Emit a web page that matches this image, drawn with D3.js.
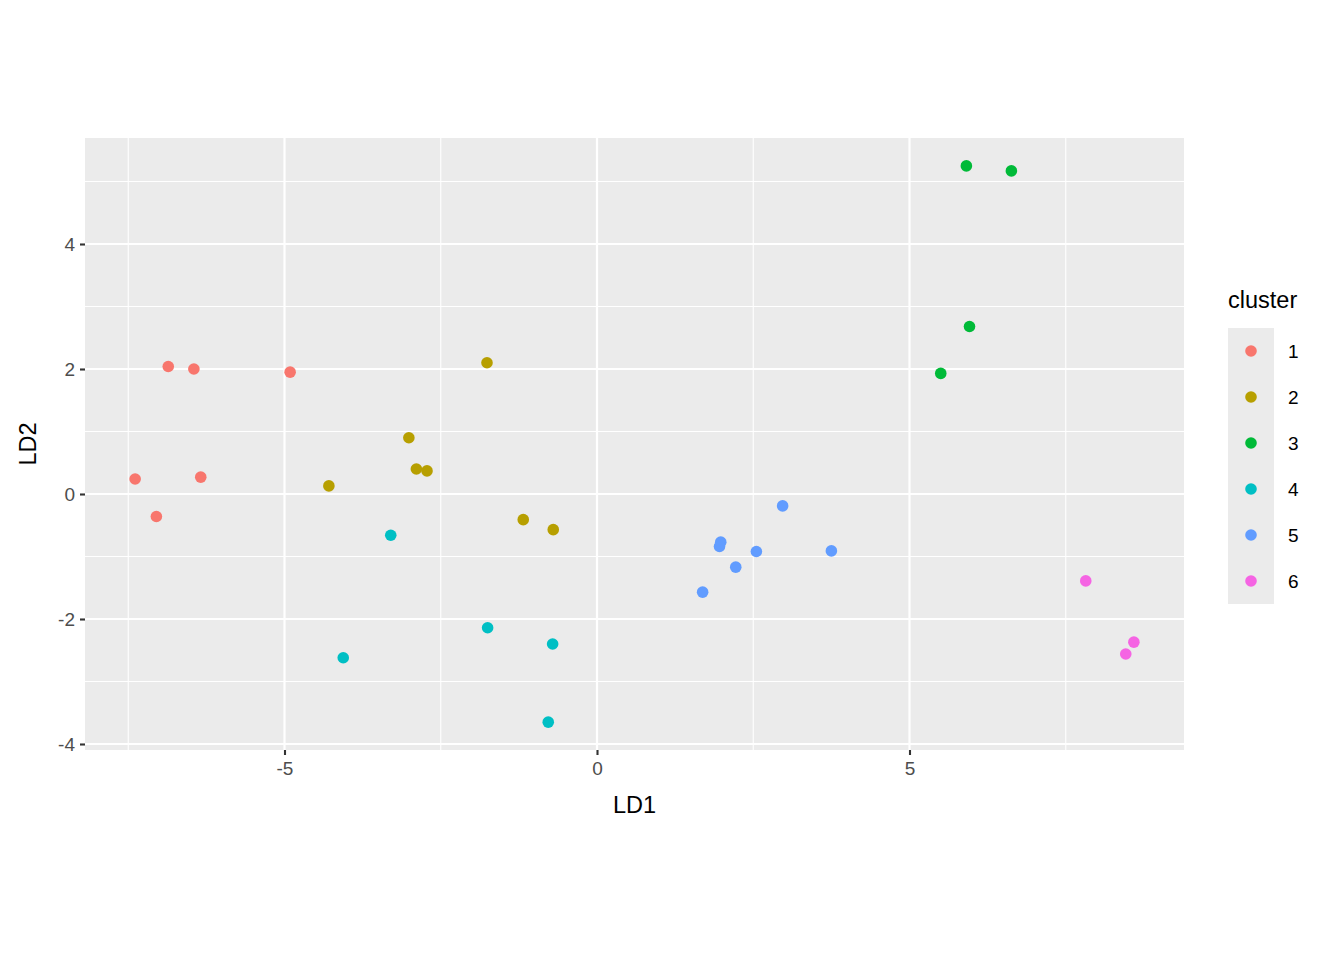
<!DOCTYPE html>
<html>
<head>
<meta charset="utf-8">
<script src="https://cdn.jsdelivr.net/npm/d3@7"></script>
<style>
  body { margin: 0; background: #fff; }
  svg { font-family: "Liberation Sans", Arial, sans-serif; }
</style>
</head>
<body>
<svg id="chart" width="1344" height="960"></svg>
<script>
// data
const clusters = ["1", "2", "3", "4", "5", "6"];
const colors = ["#F8766D", "#B79F00", "#00BA38", "#00BFC4", "#619CFF", "#F564E3"];
const ld1 = [
  -6.86, -6.45, -4.91, -7.39, -6.34, -7.05,
  -1.76, -3.01, -2.89, -2.72, -4.29, -1.18, -0.70,
  5.91, 6.63, 5.96, 5.50,
  -3.30, -4.06, -1.75, -0.71, -0.78,
  2.97, 1.98, 1.96, 2.55, 3.75, 2.22, 1.69,
  7.82, 8.59, 8.46
];
const ld2 = [
  2.04, 2.00, 1.95, 0.24, 0.27, -0.36,
  2.10, 0.90, 0.40, 0.37, 0.13, -0.41, -0.57,
  5.25, 5.17, 2.68, 1.93,
  -0.66, -2.62, -2.14, -2.40, -3.65,
  -0.19, -0.77, -0.84, -0.92, -0.91, -1.17, -1.57,
  -1.39, -2.37, -2.56
];
const group = [
  "1", "1", "1", "1", "1", "1",
  "2", "2", "2", "2", "2", "2", "2",
  "3", "3", "3", "3",
  "4", "4", "4", "4", "4",
  "5", "5", "5", "5", "5", "5", "5",
  "6", "6", "6"
];
const xTicks = [-5, 0, 5];
const yTicks = [-4, -2, 0, 2, 4];
const xMinor = [-7.5, -2.5, 2.5, 7.5];
const yMinor = [-3, -1, 1, 3, 5];

const points = ld1.map((d, i) => ({ x: d, y: ld2[i], c: group[i] }));

const svg = d3.select("#chart");
const panel = { left: 85, right: 1184, top: 138, bottom: 750 };

const x = d3.scaleLinear().domain([-8.192, 9.392]).range([panel.left, panel.right]);
const y = d3.scaleLinear().domain([-4.096, 5.696]).range([panel.bottom, panel.top]);
const color = d3.scaleOrdinal().domain(clusters).range(colors);

// panel background
svg.append("rect")
  .attr("x", panel.left).attr("y", panel.top)
  .attr("width", panel.right - panel.left)
  .attr("height", panel.bottom - panel.top)
  .attr("fill", "#EBEBEB");

const grid = svg.append("g");
// minor grid
grid.selectAll(".vmin").data(xMinor).join("line")
  .attr("x1", d => x(d)).attr("x2", d => x(d))
  .attr("y1", panel.top).attr("y2", panel.bottom)
  .attr("stroke", "#fff").attr("stroke-width", 1.1);
grid.selectAll(".hmin").data(yMinor).join("line")
  .attr("y1", d => y(d)).attr("y2", d => y(d))
  .attr("x1", panel.left).attr("x2", panel.right)
  .attr("stroke", "#fff").attr("stroke-width", 1.1);
// major grid
grid.selectAll(".vmaj").data(xTicks).join("line")
  .attr("x1", d => x(d)).attr("x2", d => x(d))
  .attr("y1", panel.top).attr("y2", panel.bottom)
  .attr("stroke", "#fff").attr("stroke-width", 2.2);
grid.selectAll(".hmaj").data(yTicks).join("line")
  .attr("y1", d => y(d)).attr("y2", d => y(d))
  .attr("x1", panel.left).attr("x2", panel.right)
  .attr("stroke", "#fff").attr("stroke-width", 2.2);

// axes (plain hyphen minus like R)
const fmt = d => String(d);
const xAxis = svg.append("g")
  .attr("transform", `translate(0,${panel.bottom})`)
  .call(d3.axisBottom(x).tickValues(xTicks).tickSize(5).tickPadding(5).tickFormat(fmt));
const yAxis = svg.append("g")
  .attr("transform", `translate(${panel.left},0)`)
  .call(d3.axisLeft(y).tickValues(yTicks).tickSize(5).tickPadding(5).tickFormat(fmt));

[xAxis, yAxis].forEach(a => {
  a.select(".domain").remove();
  a.selectAll(".tick line").attr("stroke", "#333333").attr("stroke-width", 2.1);
  a.selectAll(".tick text")
    .attr("fill", "#4D4D4D")
    .style("font-size", "19px")
    .style("font-family", "Liberation Sans, Arial, sans-serif");
});
xAxis.selectAll(".tick text").attr("dy", "0.8em");

// points
svg.append("g").selectAll("circle").data(points).join("circle")
  .attr("cx", d => x(d.x))
  .attr("cy", d => y(d.y))
  .attr("r", 5.8)
  .attr("fill", d => color(d.c));

// axis titles
svg.append("text")
  .attr("x", (panel.left + panel.right) / 2)
  .attr("y", 813)
  .attr("text-anchor", "middle")
  .style("font-size", "23.5px")
  .text("LD1");
svg.append("text")
  .attr("transform", `translate(36,${(panel.top + panel.bottom) / 2}) rotate(-90)`)
  .attr("text-anchor", "middle")
  .style("font-size", "23.5px")
  .text("LD2");

// legend
const legend = svg.append("g").attr("transform", "translate(1228,0)");
legend.append("text")
  .attr("x", 0).attr("y", 308)
  .style("font-size", "23.5px")
  .text("cluster");
legend.append("rect")
  .attr("x", 0).attr("y", 328)
  .attr("width", 46).attr("height", 276)
  .attr("fill", "#EBEBEB");
const item = legend.selectAll(".item").data(clusters).join("g")
  .attr("transform", (d, i) => `translate(0,${351 + i * 46})`);
item.append("circle")
  .attr("cx", 23).attr("cy", 0).attr("r", 5.8)
  .attr("fill", d => color(d));
item.append("text")
  .attr("x", 60).attr("y", 0)
  .attr("dy", "0.35em")
  .style("font-size", "19px")
  .text(d => d);
</script>
</body>
</html>
